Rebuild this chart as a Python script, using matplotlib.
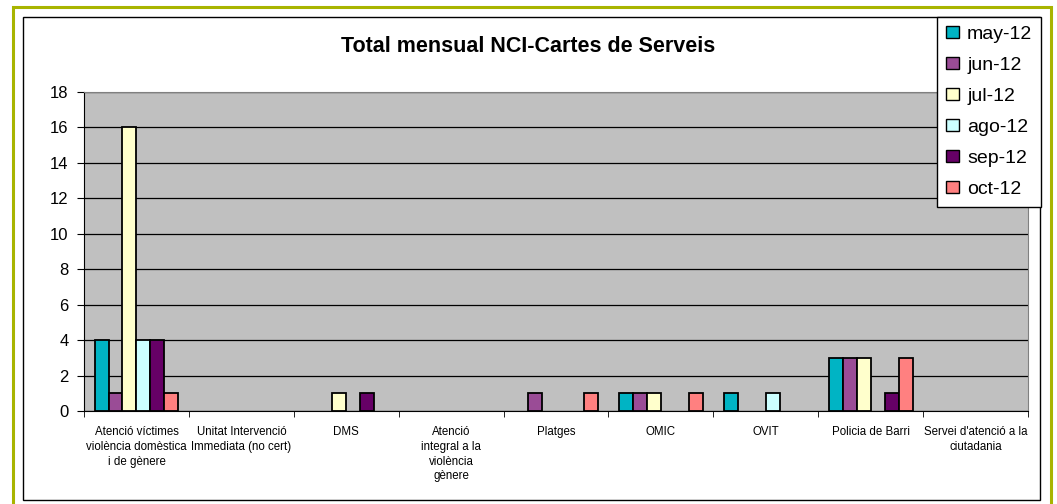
import matplotlib
matplotlib.use("Agg")
import matplotlib.pyplot as plt
from matplotlib.patches import Rectangle, Patch
import numpy as np

plt.rcParams['font.family'] = ['Liberation Sans', 'DejaVu Sans']

categories = [
    "Atenció víctimes\nviolència domèstica\ni de gènere",
    "Unitat Intervenció\nImmediata (no cert)",
    "DMS",
    "Atenció\nintegral a la\nviolència\ngènere",
    "Platges",
    "OMIC",
    "OVIT",
    "Policia de Barri",
    "Servei d'atenció a la\nciutadania",
]
months = ["may-12", "jun-12", "jul-12", "ago-12", "sep-12", "oct-12"]
may_12 = [4, 0, 0, 0, 0, 1, 1, 3, 0]
jun_12 = [1, 0, 0, 0, 1, 1, 0, 3, 0]
jul_12 = [16, 0, 1, 0, 0, 1, 0, 3, 0]
ago_12 = [4, 0, 0, 0, 0, 0, 1, 0, 0]
sep_12 = [4, 0, 1, 0, 0, 0, 0, 1, 0]
oct_12 = [1, 0, 0, 0, 1, 1, 0, 3, 0]
series = [may_12, jun_12, jul_12, ago_12, sep_12, oct_12]
colors = ["#00B4C4", "#9A4C96", "#FFFFCC", "#CCFFFF", "#660066", "#FF8080"]

W, H = 1057, 504
fig = plt.figure(figsize=(W / 100, H / 100), dpi=100)

# outer frames
fig.patches.append(Rectangle((13 / W, -0.02), (1051 - 13) / W, 1.02 - 7 / H,
                             transform=fig.transFigure, fill=False,
                             edgecolor="#A8B400", linewidth=2.2, zorder=0))
fig.patches.append(Rectangle((23 / W, 1 - 500 / H), (1040 - 23) / W, (500 - 17) / H,
                             transform=fig.transFigure, fill=False,
                             edgecolor="black", linewidth=1.0, zorder=0))

ax = fig.add_axes([84 / W, 1 - 411 / H, (1028 - 84) / W, (411 - 92) / H])
ax.set_facecolor("#C0C0C0")

x = np.arange(len(categories))
bw = 0.133
for i, (vals, c) in enumerate(zip(series, colors)):
    vals = np.array(vals, dtype=float)
    keep = vals > 0  # empty bars are not drawn
    ax.bar(x[keep] + (i - 2.5) * bw, vals[keep], bw, color=c, edgecolor="black",
           linewidth=1.3, zorder=3)

ax.set_xlim(-0.5, len(categories) - 0.5)
ax.set_ylim(0, 18)
ax.set_yticks(range(0, 19, 2))
ax.yaxis.grid(True, color="black", linewidth=0.9, zorder=1)
ax.tick_params(axis="y", labelsize=12, length=5, direction="out", pad=6)

ax.set_xticks(x)
ax.set_xticklabels(categories, fontsize=8.3, linespacing=1.3)
ax.tick_params(axis="x", which="major", length=0, pad=11)
ax.set_xticks(np.arange(-0.5, len(categories)), minor=True)
ax.tick_params(axis="x", which="minor", length=4, direction="out")

for s in ["top", "right"]:
    ax.spines[s].set_color("#808080")
for s in ["left", "bottom"]:
    ax.spines[s].set_color("black")

fig.text(0.5, 1 - 46 / H, "Total mensual NCI-Cartes de Serveis",
         ha="center", va="center", fontsize=15.5, fontweight="bold")

handles = [Patch(facecolor=c, edgecolor="black", label=m) for m, c in zip(months, colors)]
leg = fig.legend(handles=handles, loc="upper left",
                 bbox_to_anchor=(937 / W, 1 - 17 / H), fontsize=14,
                 frameon=True, fancybox=False, edgecolor="black", framealpha=1,
                 handlelength=0.7, handleheight=0.6, handletextpad=0.4,
                 labelspacing=0.72, borderpad=0.45, borderaxespad=0)
leg.get_frame().set_linewidth(1.0)

fig.savefig("out.png", dpi=100)
